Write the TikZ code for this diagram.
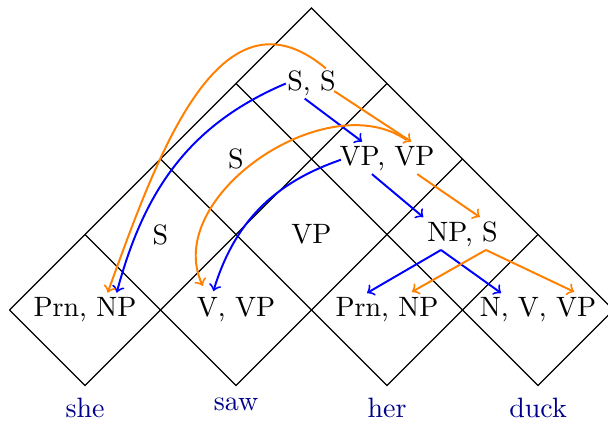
\documentclass[tikz,border=0pt]{standalone}
\usetikzlibrary{calc}
\tikzset{
    word/.style={text=blue!55!black, anchor=north, yshift=-1pt},
    bp/.style={->, line width=0.7pt},
}
\begin{document}
\begin{tikzpicture}[x=0.948cm, y=0.948cm]
    \clip (-0.126,-1.483) rectangle (7.927,4.106);
    % Chart grid
    \draw (0,0) -- (4,4) -- (8,0);
    \draw (0,0) -- (1,-1) -- (5,3);
    \draw (1,1) -- (3,-1) -- (6,2);
    \draw (2,2) -- (5,-1) -- (7,1);
    \draw (3,3) -- (7,-1) -- (8,0);

    % Cells
    \node (c11) at (1,0) {Prn, NP};
    \node (c22) at (3,0) {V, VP};
    \node (c33) at (5,0) {Prn, NP};
    \node (c44) at (7,0) {N, V, VP};
    \node (c12) at (2,1) {S};
    \node (c23) at (4,1) {VP};
    \node (c34) at (6,1) {NP, S};
    \node (c13) at (3,2) {S};
    \node (c24) at (5,2) {VP, VP};
    \node (c14) at (4,3) {S, S};

    % Words
    \node[word] (w1) at ($(c11)+(0,-1)$) {she};
    \node[word] (w2) at ($(c22)+(0,-1)$) {saw};
    \node[word] (w3) at ($(c33)+(0,-1)$) {her};
    \node[word] (w4) at ($(c44)+(0,-1)$) {duck};

    % Blue back-pointers
    \draw[bp, blue] ($(c14)+(-0.34,0)$) to[out=203, in=75] ($(c11)+(0.42,0.23)$);
    \draw[bp, blue] ($(c14)+(-0.09,-0.2)$) -- ($(c24)+(-0.33,0.23)$);
    \draw[bp, blue] ($(c24)+(-0.61,-0.01)$) to[out=199, in=73] ($(c22)+(-0.3,0.25)$);
    \draw[bp, blue] ($(c24)+(-0.2,-0.2)$) -- ($(c34)+(-0.52,0.23)$);
    \draw[bp, blue] ($(c34)+(-0.285,-0.205)$) -- ($(c33)+(-0.265,0.225)$);
    \draw[bp, blue] ($(c34)+(-0.285,-0.205)$) -- ($(c44)+(-0.49,0.225)$);

    % Orange back-pointers
    \draw[bp, orange] ($(c14)+(0.19,0.2)$) to[out=140, in=70, looseness=1.15] ($(c11)+(0.3,0.23)$);
    \draw[bp, orange] ($(c14)+(0.3,-0.1)$) -- ($(c24)+(0.32,0.23)$);
    \draw[bp, orange] ($(c24)+(0.26,0.25)$) to[out=145, in=115] ($(c22)+(-0.44,0.32)$);
    \draw[bp, orange] ($(c24)+(0.4,-0.2)$) -- ($(c34)+(0.23,0.23)$);
    \draw[bp, orange] ($(c34)+(0.31,-0.205)$) -- ($(c33)+(0.33,0.24)$);
    \draw[bp, orange] ($(c34)+(0.31,-0.205)$) -- ($(c44)+(0.48,0.24)$);
\end{tikzpicture}
\end{document}
